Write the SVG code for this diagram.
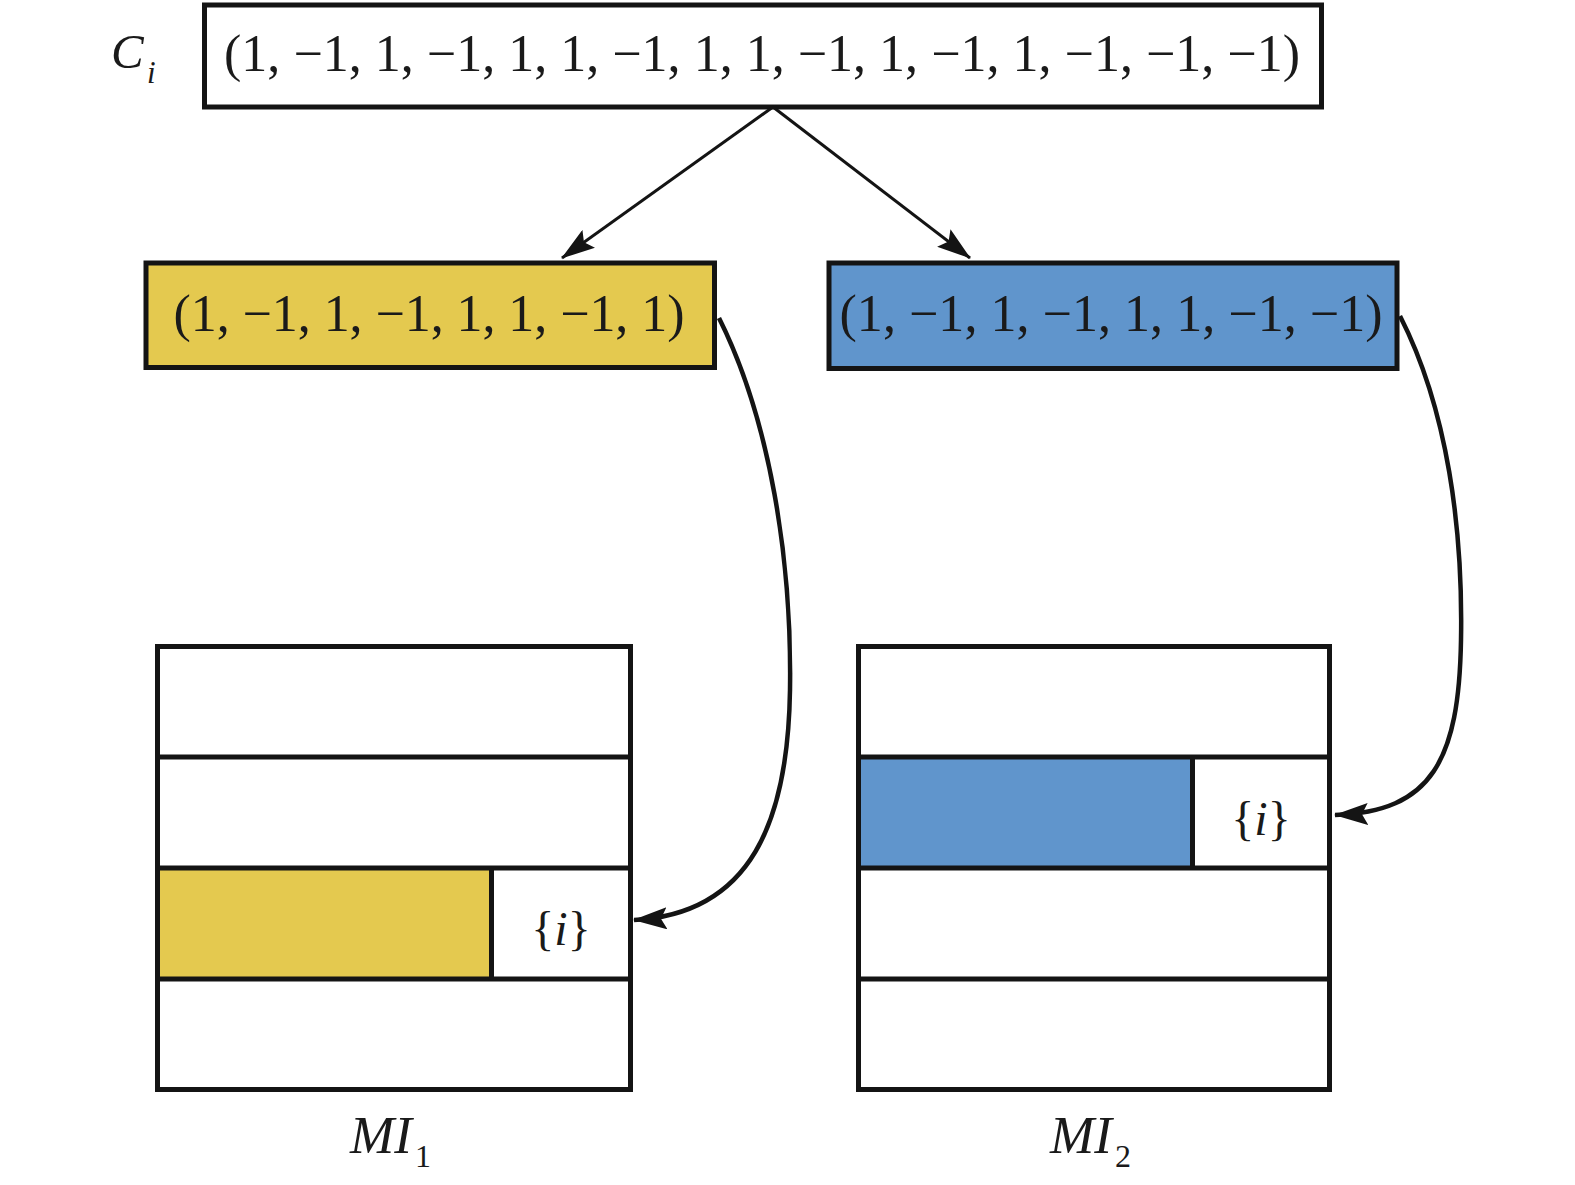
<svg xmlns="http://www.w3.org/2000/svg" width="1575" height="1185" viewBox="0 0 1575 1185">
<style>
.box{stroke:#141414;stroke-width:5;}
.t{font-family:"Liberation Serif","Times New Roman",serif;fill:#1a1a1a;}
.it{font-style:italic;}
.conn{fill:none;stroke:#141414;}
</style>
<defs>
<marker id="ah" markerUnits="userSpaceOnUse" viewBox="0 0 34 22" refX="33" refY="11" markerWidth="34" markerHeight="22" orient="auto">
<path d="M0,0 L34,11 L0,22 L6,11 z" fill="#141414"/>
</marker>
</defs>
<rect width="1575" height="1185" fill="#ffffff"/>

<g id="ci-label">
<text class="t it" x="111" y="68" font-size="49">C</text>
<text class="t it" x="147" y="83" font-size="31">i</text>
</g>

<g id="ci">
<rect class="box" x="204.5" y="5" width="1117" height="102" fill="#ffffff"/>
<text class="t" x="762" y="71" font-size="52" text-anchor="middle" textLength="1076" lengthAdjust="spacing">(1, −1, 1, −1, 1, 1, −1, 1, 1, −1, 1, −1, 1, −1, −1, −1)</text>
</g>

<g id="part1">
<rect class="box" x="146" y="263" width="568.5" height="104.5" fill="#E4C94F"/>
<text class="t" x="429" y="331" font-size="52" text-anchor="middle" textLength="511" lengthAdjust="spacing">(1, −1, 1, −1, 1, 1, −1, 1)</text>
</g>

<g id="part2">
<rect class="box" x="829" y="263" width="568" height="105.5" fill="#6095CC"/>
<text class="t" x="1111" y="331" font-size="52" text-anchor="middle" textLength="543" lengthAdjust="spacing">(1, −1, 1, −1, 1, 1, −1, −1)</text>
</g>

<g id="mi1">
<rect x="157.5" y="868" width="334" height="111" fill="#E4C94F"/>
<rect class="box" x="157.5" y="646.5" width="473" height="443" fill="none"/>
<line class="box" x1="157.5" y1="757" x2="630.5" y2="757"/>
<line class="box" x1="157.5" y1="868" x2="630.5" y2="868"/>
<line class="box" x1="157.5" y1="979" x2="630.5" y2="979"/>
<line class="box" x1="491.5" y1="868" x2="491.5" y2="979"/>
<text class="t" x="561" y="945" font-size="48" text-anchor="middle">{<tspan font-style="italic">i</tspan>}</text>
</g>

<g id="mi2">
<rect x="858.5" y="757" width="334" height="111" fill="#6095CC"/>
<rect class="box" x="858.5" y="646.5" width="471" height="443" fill="none"/>
<line class="box" x1="858.5" y1="757" x2="1329.5" y2="757"/>
<line class="box" x1="858.5" y1="868" x2="1329.5" y2="868"/>
<line class="box" x1="858.5" y1="979" x2="1329.5" y2="979"/>
<line class="box" x1="1192.5" y1="757" x2="1192.5" y2="868"/>
<text class="t" x="1261" y="835" font-size="48" text-anchor="middle">{<tspan font-style="italic">i</tspan>}</text>
</g>

<g id="mi1-label">
<text class="t it" x="350" y="1153" font-size="53">MI</text>
<text class="t" x="415" y="1167" font-size="32">1</text>
</g>
<g id="mi2-label">
<text class="t it" x="1050" y="1153" font-size="53">MI</text>
<text class="t" x="1115" y="1167" font-size="32">2</text>
</g>

<g id="connectors">
<line class="conn" stroke-width="3" x1="773" y1="107" x2="562" y2="258" marker-end="url(#ah)"/>
<line class="conn" stroke-width="3" x1="773" y1="107" x2="970" y2="258" marker-end="url(#ah)"/>
<path class="conn" stroke-width="4.5" d="M719,318 C770,420 792,560 790,690 C788,820 752,914 634,920" marker-end="url(#ah)"/>
<path class="conn" stroke-width="4.5" d="M1400,316 C1448,410 1463,530 1461,640 C1459,760 1432,812 1335,815" marker-end="url(#ah)"/>
</g>
</svg>
